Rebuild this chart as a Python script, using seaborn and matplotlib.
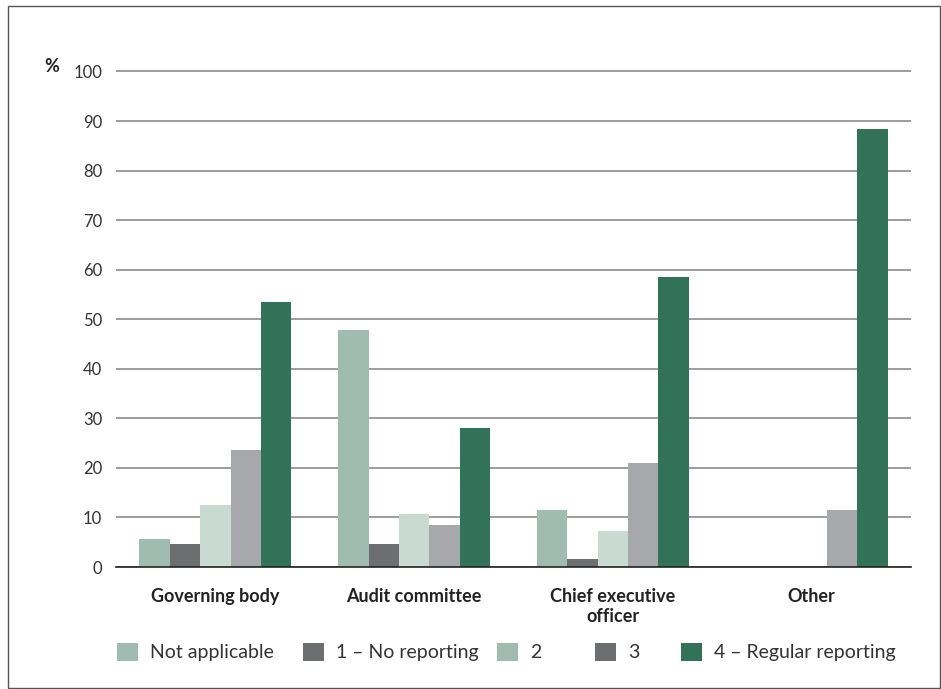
import matplotlib
matplotlib.use("Agg")
import matplotlib.pyplot as plt
from matplotlib.patches import Patch, Rectangle
import seaborn as sns
import pandas as pd

categories = ["Governing body", "Audit committee", "Chief executive\nofficer", "Other"]
series = ["Not applicable", "1 – No reporting", "2", "3", "4 – Regular reporting"]
values = {
    "Not applicable":        [5.6, 47.8, 11.5, 0.0],
    "1 – No reporting":      [4.6, 4.6, 1.6, 0.0],
    "2":                     [12.5, 10.7, 7.3, 0.0],
    "3":                     [23.6, 8.5, 21.0, 11.5],
    "4 – Regular reporting": [53.4, 28.0, 58.5, 88.3],
}
bar_colors = ["#a0bcb0", "#6d6e70", "#c9dad2", "#a7a8ac", "#327259"]
legend_colors = ["#a0bcb0", "#6d6e70", "#a0bcb0", "#6d6e70", "#327259"]
yticks = [0, 10, 20, 30, 40, 50, 60, 70, 80, 90, 100]

rows = []
for s in series:
    for c, v in zip(categories, values[s]):
        rows.append({"category": c, "series": s, "value": v})
df = pd.DataFrame(rows)

sns.set_theme(style="white")
plt.rcParams["font.family"] = ["Lato", "DejaVu Sans"]

W, H = 941, 689
fig = plt.figure(figsize=(W / 100, H / 100), dpi=100)
ax = fig.add_axes([116 / W, 1 - 567 / H, (911 - 116) / W, (567 - 70) / H])

ax.set_axisbelow(True)
ax.yaxis.grid(True, color="#8c8c8c", linewidth=1.2)
sns.barplot(data=df, x="category", y="value", hue="series", order=categories,
            hue_order=series, palette=bar_colors, width=0.765, gap=0,
            linewidth=0, saturation=1, legend=False, ax=ax)

ax.set_ylim(0, 100.3)
ax.set_xlim(-0.5, len(categories) - 0.5)
ax.set_yticks(yticks)
ax.set_yticklabels([str(t) for t in yticks], fontsize=12, color="#333333")
ax.tick_params(axis="y", length=0, pad=10)
ax.tick_params(axis="x", which="major", length=0, pad=15, labelsize=13)
for lbl in ax.get_xticklabels():
    lbl.set_fontweight("bold")
    lbl.set_color("#222222")
ax.set_xticks([i - 0.5 for i in range(len(categories) + 1)], minor=True)
ax.tick_params(axis="x", which="minor", length=7, width=1, color="#222222", direction="out")
ax.set_xlabel("")
ax.set_ylabel("")
for sp in ["top", "right", "left"]:
    ax.spines[sp].set_visible(False)
ax.spines["bottom"].set_color("#222222")
ax.spines["bottom"].set_linewidth(1.2)

fig.text(52 / W, 1 - 67 / H, "%", ha="center", va="center", fontsize=13,
         fontweight="bold", color="#222222")

# Legend entries
xpos = [117, 303, 497, 595, 681]
for x, s, col in zip(xpos, series, legend_colors):
    leg = fig.legend(handles=[Patch(facecolor=col, edgecolor="none", label=s)],
                     loc="center left", bbox_to_anchor=(x / W, 1 - 652 / H),
                     frameon=False, fontsize=14, handlelength=1.1, handleheight=1.1,
                     handletextpad=0.6, borderpad=0, borderaxespad=0)
    for t in leg.get_texts():
        t.set_color("#333333")

# Outer frame
fig.patches.append(Rectangle((8 / W, 1 - 688 / H), (940 - 8) / W, (688 - 6) / H,
                             transform=fig.transFigure, fill=False,
                             edgecolor="#555555", linewidth=1))

fig.savefig("out.png", dpi=100)
